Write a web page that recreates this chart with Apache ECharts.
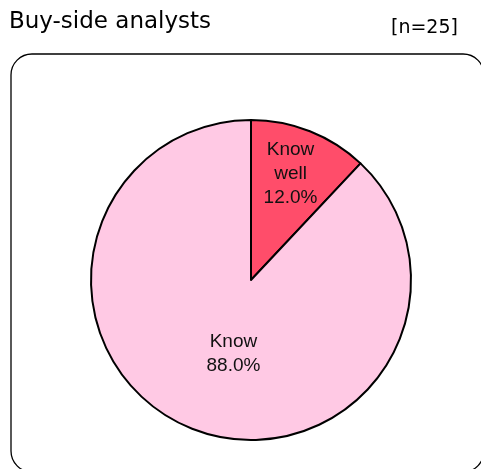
<!DOCTYPE html>
<html><head><meta charset="utf-8">
<script src="https://cdn.jsdelivr.net/npm/echarts@6/dist/echarts.min.js"></script>
<style>html,body{margin:0;padding:0;background:#fff}#c{width:481px;height:469px}</style>
</head><body><div id="c"></div>
<script>
var titleText = 'Buy-side analysts';
var noteText = '[n=25]';
var categories = ['Know well', 'Know'];
var values = [12.0, 88.0];
var colors = ['#ff4d6a', '#ffc9e4'];
var labelOffsets = [[9, -29], [13, -3]];

var chart = echarts.init(document.getElementById('c'), null, {renderer: 'canvas'});
var font = '"DejaVu Sans", sans-serif';
chart.setOption({
  animation: false,
  backgroundColor: '#fff',
  graphic: [
    {type: 'rect', shape: {x: 11, y: 54, width: 473, height: 418, r: 21},
     style: {fill: 'none', stroke: '#000', lineWidth: 1.3}, z: -1},
    {type: 'text', left: 9, top: 11, style: {text: titleText, font: '23px ' + font, fill: '#000'}},
    {type: 'text', left: 391, top: 19, style: {text: noteText, font: '19px ' + font, fill: '#000'}}
  ],
  series: [{
    type: 'pie',
    center: [251, 280],
    radius: [0, 160],
    startAngle: 90,
    clockwise: true,
    silent: true,
    itemStyle: {borderColor: '#000', borderWidth: 2},
    label: {position: 'inside', color: '#111', fontSize: 19, lineHeight: 24,
      fontFamily: '"Liberation Sans", Arial, sans-serif',
      formatter: function (p) { return p.name.replace(' ', '\n') + '\n' + p.value.toFixed(1) + '%'; }},
    labelLine: {show: false},
    data: categories.map(function (c, i) {
      return {name: c, value: values[i], itemStyle: {color: colors[i]},
        label: {offset: labelOffsets[i]}};
    })
  }]
});
</script></body></html>
